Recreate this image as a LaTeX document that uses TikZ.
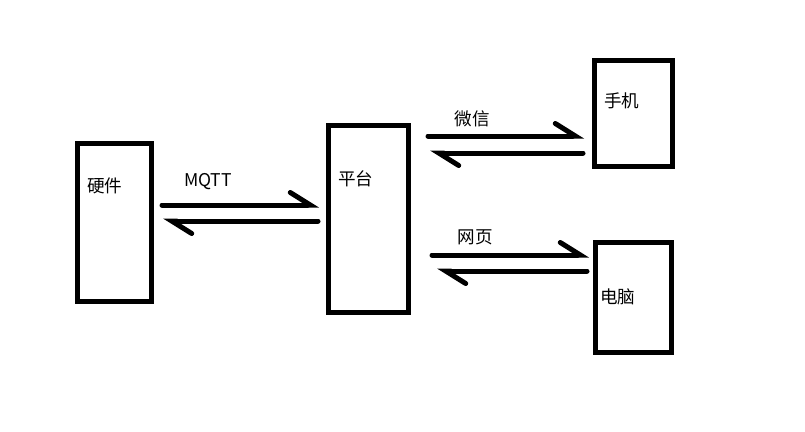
\documentclass[tikz,border=0pt]{standalone}
\usepackage{fontspec}
\setmainfont{Noto Sans CJK SC}
\usetikzlibrary{positioning,arrows.meta}

\tikzset{
  box/.style={draw,line width=0.1cm,inner sep=0pt},
  fwd/.style={line width=0.1cm,line cap=round,
    -{Straight Barb[harpoon,length=0.4cm,width=0.5cm,line cap=round]}},
  lbl/.style={inner sep=0pt,font=\fontsize{10}{12}\selectfont}
}

\begin{document}
\begin{tikzpicture}
  \useasboundingbox (0,0) rectangle (16.1,8.62);

  \node (hw) [box,minimum width=1.48cm,minimum height=3.16cm] at (2.28,4.18) {};
  \node (hwtxt) [lbl,anchor=west] at (1.74,4.9) {硬件};

  \node (pt) [box,minimum width=1.6cm,minimum height=3.74cm] at (7.36,4.25) {};
  \node (pttxt) [lbl,anchor=west] at (6.76,5.04) {平台};

  \node (sj) [box,minimum width=1.56cm,minimum height=2.12cm] at (12.66,6.36) {};
  \node (sjtxt) [lbl,anchor=west] at (12.08,6.6) {手机};

  \node (dn) [box,minimum width=1.52cm,minimum height=2.2cm] at (12.66,2.68) {};
  \node (dntxt) [lbl,anchor=west] at (12.0,2.68) {电脑};

  % arrow ends
  \coordinate (hwA) at (3.24,4.52);
  \coordinate (ptA) at (6.38,4.52);
  \coordinate (ptB) at (6.36,4.2);
  \coordinate (hwB) at (3.26,4.2);

  \coordinate (ptC) at (8.56,5.9);
  \coordinate (sjC) at (11.68,5.9);
  \coordinate (sjD) at (11.66,5.56);
  \coordinate (ptD) at (8.6,5.56);

  \coordinate (ptE) at (8.64,3.52);
  \coordinate (dnE) at (11.78,3.52);
  \coordinate (dnF) at (11.74,3.2);
  \coordinate (ptF) at (8.74,3.2);

  \draw [fwd] (hwA) -- (ptA);
  \draw [fwd] (ptB) -- (hwB);
  \node (mqtt) [lbl] at (4.16,4.98) {MQTT};

  \draw [fwd] (ptC) -- (sjC);
  \draw [fwd] (sjD) -- (ptD);
  \node (wx) [lbl] at (9.44,6.24) {微信};

  \draw [fwd] (ptE) -- (dnE);
  \draw [fwd] (dnF) -- (ptF);
  \node (wy) [lbl] at (9.5,3.88) {网页};
\end{tikzpicture}
\end{document}
